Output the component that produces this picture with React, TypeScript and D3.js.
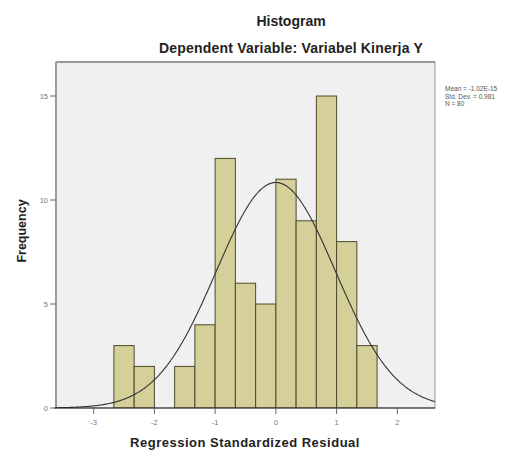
import React from 'react';
import * as d3 from 'd3';

// histogram bins (width 1/3)
const binStarts = [-8, -7, -6, -5, -4, -3, -2, -1, 0, 1, 2, 3, 4].map((k) => k / 3);
const counts = [3, 2, 0, 2, 4, 12, 6, 5, 11, 9, 15, 8, 3];
const xTicks = [-3, -2, -1, 0, 1, 2];
const yTicks = [0, 5, 10, 15];
const statLines = ['Mean = -1.02E-15', 'Std. Dev. = 0.981', 'N = 80'];

const N = 80;
const stdDev = 0.981;
const binWidth = 1 / 3;

const App = () => {
  const width = 520;
  const height = 451;
  const plot = { left: 56, right: 435, top: 62, bottom: 408 };

  const xScale = d3.scaleLinear().domain([-3.62, 2.62]).range([plot.left, plot.right]);
  const yScale = d3.scaleLinear().domain([0, 15]).range([plot.bottom, 96]);

  const bars = binStarts.map((s, i) =>
    counts[i] > 0 ? (
      <rect
        key={i}
        x={xScale(s)}
        y={yScale(counts[i])}
        width={xScale(s + binWidth) - xScale(s)}
        height={plot.bottom - yScale(counts[i])}
        fill="#d5cf99"
        stroke="#4d4a2c"
        strokeWidth={1}
      />
    ) : null
  );

  // normal curve scaled to counts
  const pts = d3.range(-3.62, 2.6201, 0.02).map((x) => [
    x,
    (N * binWidth) / (stdDev * Math.sqrt(2 * Math.PI)) * Math.exp(-(x * x) / (2 * stdDev * stdDev)),
  ]);
  const curve = d3
    .line()
    .x((d) => xScale(d[0]))
    .y((d) => yScale(d[1]))
    .curve(d3.curveBasis)(pts as [number, number][]);

  const font = 'Arial, "Liberation Sans", sans-serif';

  return (
    <svg width={width} height={height} style={{ position: 'absolute', left: 0, top: 0, background: '#fff' }} fontFamily={font}>
      <text x={291} y={26} textAnchor="middle" fontSize={14} fontWeight="bold" fill="#222">Histogram</text>
      <text x={291} y={53} textAnchor="middle" fontSize={14} fontWeight="bold" fill="#222" letterSpacing={0.2}>Dependent Variable: Variabel Kinerja Y</text>

      <rect x={plot.left} y={plot.top} width={plot.right - plot.left} height={plot.bottom - plot.top} fill="#f0f0f0" stroke="#9a9a9a" strokeWidth={1} />
      <line x1={plot.left} x2={plot.right} y1={plot.top} y2={plot.top} stroke="#999" strokeWidth={2} />
      <line x1={plot.left} x2={plot.left} y1={plot.top} y2={plot.bottom} stroke="#999" strokeWidth={2} />

      <defs>
        <clipPath id="clip">
          <rect x={plot.left} y={plot.top} width={plot.right - plot.left} height={plot.bottom - plot.top} />
        </clipPath>
      </defs>
      <g clipPath="url(#clip)">{bars}</g>
      <path d={curve || ''} fill="none" stroke="#333" strokeWidth={1.1} clipPath="url(#clip)" />

      <line x1={plot.left - 2} x2={plot.right} y1={plot.bottom} y2={plot.bottom} stroke="#222" strokeWidth={1.2} />

      {yTicks.map((t) => (
        <g key={t}>
          <line x1={plot.left - 6} x2={plot.left} y1={yScale(t)} y2={yScale(t)} stroke="#666" />
          <text x={plot.left - 8} y={yScale(t) + 3} textAnchor="end" fontSize={7.5} fill="#777">{t}</text>
        </g>
      ))}
      {xTicks.map((t) => (
        <g key={t}>
          <line x1={xScale(t)} x2={xScale(t)} y1={plot.bottom} y2={plot.bottom + 6} stroke="#666" />
          <text x={xScale(t)} y={plot.bottom + 17} textAnchor="middle" fontSize={7.5} fill="#777">{t}</text>
        </g>
      ))}

      <text transform={`translate(26,231) rotate(-90)`} textAnchor="middle" fontSize={12.5} fontWeight="bold" fill="#222">Frequency</text>
      <text x={245} y={447} textAnchor="middle" fontSize={13} fontWeight="bold" fill="#222" letterSpacing={0.5}>Regression Standardized Residual</text>

      {statLines.map((s, i) => (
        <text key={i} x={445} y={91 + i * 7.5} fontSize={6.5} fill="#555">{s}</text>
      ))}
    </svg>
  );
};

export default App;
